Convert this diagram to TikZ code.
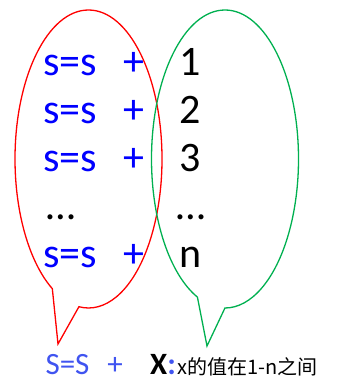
\documentclass[tikz,border=0pt]{standalone}
\usepackage{fontspec}
\setmainfont{Carlito}
\newfontfamily\cjkfont{Noto Sans CJK SC}
\usepackage{xcolor}
\usetikzlibrary{shapes.callouts, positioning}
\definecolor{sumblue}{HTML}{0000FF}
\definecolor{eqblue}{RGB}{64,84,240}
\definecolor{bubred}{HTML}{FF0000}
\definecolor{bubgreen}{HTML}{00B050}

\begin{document}
\begin{tikzpicture}[
    x=1pt, y=-1pt,
    bubble/.style={ellipse callout, line width=1.3pt, inner sep=0pt, minimum width=147pt, minimum height=298pt, callout pointer arc=22},
    sumtxt/.style={font=\fontsize{42}{48}\selectfont, text=sumblue, inner sep=0pt, anchor=base},
    numtxt/.style={font=\fontsize{42}{48}\selectfont, inner sep=0pt, anchor=base},
    eqtxt/.style={font=\fontsize{31}{34}\selectfont, inner sep=0pt, anchor=base},
    notetxt/.style={font=\cjkfont\fontsize{20}{22}\selectfont, inner sep=0pt, anchor=base west}
]
    \useasboundingbox (0,0) rectangle (346,382);

    \node[bubble, draw=bubred, callout absolute pointer={(58,344)}] (terms) at (88.5,159) {};
    \node[bubble, draw=bubgreen, callout absolute pointer={(207,346)}] (values) at (225,159) {};

    \node[sumtxt] (sum1) at (70,76) {s=s};
    \node[sumtxt] (plus1) at (133.5,76) {+};
    \node[numtxt] (num1) at (190,76) {1};

    \node[sumtxt] (sum2) at (70,123.5) {s=s};
    \node[sumtxt] (plus2) at (133.5,123.5) {+};
    \node[numtxt] (num2) at (190,123.5) {2};

    \node[sumtxt] (sum3) at (70,171) {s=s};
    \node[sumtxt] (plus3) at (133.5,171) {+};
    \node[numtxt] (num3) at (190,171) {3};

    \node[numtxt] (dotsl) at (61,219) {…};
    \node[numtxt] (dotsr) at (191,219) {…};

    \node[sumtxt] (sumn) at (70,267) {s=s};
    \node[sumtxt] (plusn) at (133.5,267) {+};
    \node[numtxt] (numn) at (191,267) {n};

    \node[eqtxt, text=eqblue] (eqsum) at (67.5,374) {S=S};
    \node[eqtxt, text=eqblue] (eqplus) at (115,374) {+};
    \node[eqtxt] (eqx) at (163,374) {\textbf{X}\textcolor{eqblue}{\textbf{:}}};
    \node[notetxt, xshift=1pt] (note) at (eqx.base east) {x的值在1-n之间};
\end{tikzpicture}
\end{document}
